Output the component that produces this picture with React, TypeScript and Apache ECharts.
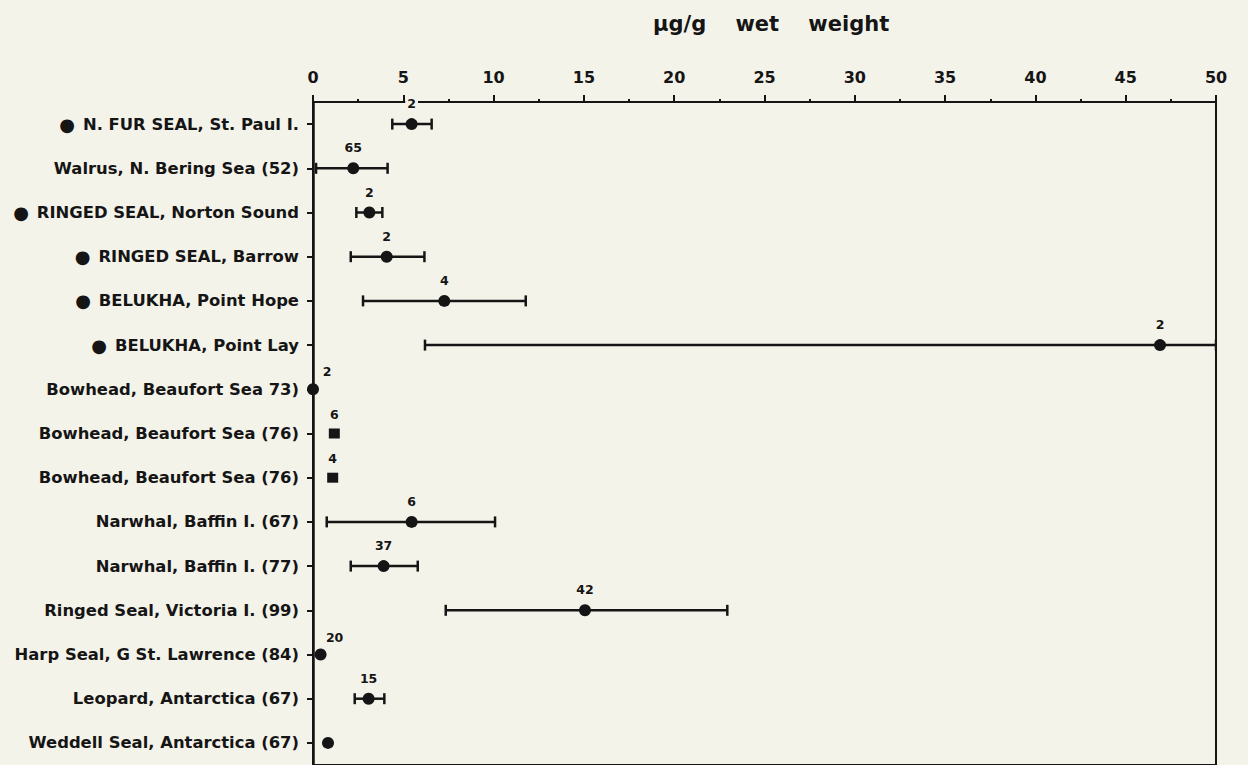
import React, { useEffect, useRef } from "react";
import * as echarts from "echarts";

const categories = [
  "N. FUR SEAL, St. Paul I.",
  "Walrus, N. Bering Sea (52)",
  "RINGED SEAL, Norton Sound",
  "RINGED SEAL, Barrow",
  "BELUKHA, Point Hope",
  "BELUKHA, Point Lay",
  "Bowhead, Beaufort Sea 73)",
  "Bowhead, Beaufort Sea (76)",
  "Bowhead, Beaufort Sea (76)",
  "Narwhal, Baffin I. (67)",
  "Narwhal, Baffin I. (77)",
  "Ringed Seal, Victoria I. (99)",
  "Harp Seal, G St. Lawrence (84)",
  "Leopard, Antarctica (67)",
  "Weddell Seal, Antarctica (67)",
];
const bulleted = [true, false, true, true, true, true, false, false, false, false, false, false, false, false, false];
const means = [5.46, 2.23, 3.12, 4.08, 7.27, 46.9, 0.0, 1.18, 1.09, 5.46, 3.91, 15.06, 0.42, 3.08, 0.83];
const lows = [4.39, 0.17, 2.4, 2.09, 2.77, 6.2, null, null, null, 0.76, 2.09, 7.35, null, 2.31, null];
const highs = [6.57, 4.13, 3.84, 6.17, 11.78, 50, null, null, null, 10.08, 5.8, 22.94, null, 3.95, null];
const sampleSizes = [2, 65, 2, 2, 4, 2, 2, 6, 4, 6, 37, 42, 20, 15, null];
const markers = ["circle", "circle", "circle", "circle", "circle", "circle", "circle", "rect", "rect", "circle", "circle", "circle", "circle", "circle", "circle"];
const xTicks = { min: 0, max: 50, interval: 5 };
const axisTitle = "µg/g    wet    weight";

const INK = "#151515";
const PAPER = "#f4f3ea";
const FONT = "'DejaVu Sans', sans-serif";

export default function App() {
  const ref = useRef<HTMLDivElement>(null);
  useEffect(() => {
    if (!ref.current) return;
    const chart = echarts.init(ref.current, null, { renderer: "svg" });

    const errData = categories
      .map((_, i) => (lows[i] != null && highs[i] != null ? [i, lows[i], highs[i]] : null))
      .filter((d) => d !== null);

    const pointData = means.map((m, i) => ({
      value: [m, i],
      symbol: markers[i],
      symbolSize: markers[i] === "rect" ? [11, 10] : 12,
      label: {
        show: sampleSizes[i] != null,
        formatter: sampleSizes[i] != null ? String(sampleSizes[i]) : "",
        offset: m < 0.5 ? [14, 3] : [0, 0],
      },
    }));

    const option: any = {
      animation: false,
      backgroundColor: PAPER,
      title: {
        text: axisTitle,
        left: 648,
        top: 8,
        textStyle: { fontFamily: FONT, fontSize: 21, fontWeight: "bold", color: INK },
      },
      grid: {
        left: 313,
        right: 32,
        top: 102,
        bottom: -5,
        show: true,
        borderColor: INK,
        borderWidth: 2,
        backgroundColor: "transparent",
      },
      xAxis: {
        type: "value",
        position: "top",
        min: xTicks.min,
        max: xTicks.max,
        interval: xTicks.interval,
        axisLine: { show: true, lineStyle: { color: INK, width: 2 } },
        axisTick: { show: true, inside: false, length: 7, lineStyle: { color: INK, width: 2 } },
        minorTick: { show: true, splitNumber: 2, length: 3, lineStyle: { color: INK, width: 2 } },
        splitLine: { show: false },
        axisLabel: { fontFamily: FONT, fontSize: 16, fontWeight: "bold", color: INK, margin: 17 },
      },
      yAxis: {
        type: "category",
        inverse: true,
        data: categories,
        axisLine: { show: true, lineStyle: { color: INK, width: 2.5 } },
        axisTick: { show: true, inside: false, alignWithLabel: true, length: 6, lineStyle: { color: INK, width: 2 } },
        splitLine: { show: false },
        axisLabel: {
          margin: 14,
          formatter: (v: string, idx: number) => (bulleted[idx] ? `{d|●}{t|${v}}` : `{t|${v}}`),
          rich: {
            t: { fontFamily: FONT, fontSize: 16.4, fontWeight: "bold", color: INK },
            d: { fontFamily: FONT, fontSize: 18, color: INK, padding: [0, 8, 0, 0] },
          },
        },
      },
      series: [
        {
          type: "custom",
          encode: { x: [1, 2], y: 0 },
          data: errData,
          clip: true,
          renderItem: (params: any, api: any) => {
            const cat = api.value(0);
            const lo = api.coord([api.value(1), cat]);
            const hi = api.coord([api.value(2), cat]);
            const h = 5.5;
            const st = { stroke: INK, lineWidth: 2.5 };
            return {
              type: "group",
              children: [
                { type: "line", shape: { x1: lo[0], y1: lo[1], x2: hi[0], y2: hi[1] }, style: st },
                { type: "line", shape: { x1: lo[0], y1: lo[1] - h, x2: lo[0], y2: lo[1] + h }, style: st },
                { type: "line", shape: { x1: hi[0], y1: hi[1] - h, x2: hi[0], y2: hi[1] + h }, style: st },
              ],
            };
          },
          z: 2,
        },
        {
          type: "scatter",
          data: pointData,
          clip: false,
          itemStyle: { color: INK, opacity: 1 },
          label: {
            show: true,
            position: "top",
            distance: 8,
            fontFamily: FONT,
            fontSize: 12.5,
            fontWeight: "bold",
            color: INK,
            opacity: 1,
            backgroundColor: PAPER,
            padding: [0, 2],
          },
          z: 3,
        },
      ],
    };
    chart.setOption(option);
    return () => chart.dispose();
  }, []);

  return (
    <div
      ref={ref}
      style={{ position: "fixed", left: 0, top: 0, width: 1248, height: 765, background: PAPER }}
    />
  );
}
